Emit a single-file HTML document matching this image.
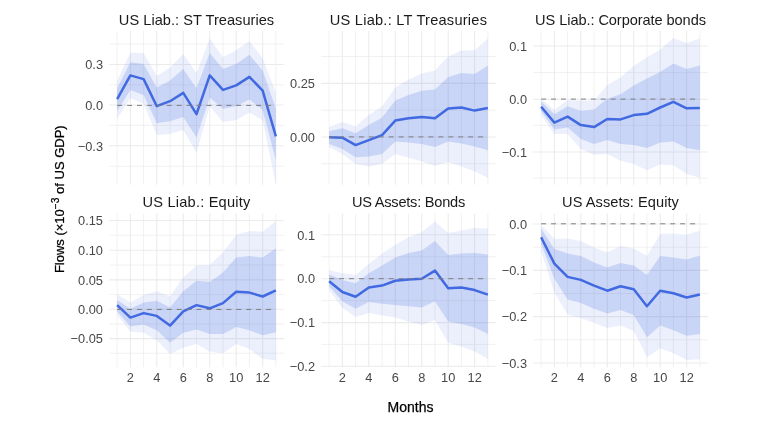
<!DOCTYPE html>
<html lang="en"><head><meta charset="utf-8"><title>Flows</title>
<style>html,body{margin:0;padding:0;background:#fff}svg{display:block}</style></head>
<body>
<svg width="768" height="431" viewBox="0 0 768 431">
<rect width="768" height="431" fill="#fff"/>
<g class="panel">
<clipPath id="cp0"><rect x="109.2" y="31.1" width="174.6" height="153.6"/></clipPath>
<line x1="109.2" x2="283.8" y1="44.0" y2="44.0" stroke="#ebebeb" stroke-width="0.7"/>
<line x1="109.2" x2="283.8" y1="84.8" y2="84.8" stroke="#ebebeb" stroke-width="0.7"/>
<line x1="109.2" x2="283.8" y1="125.4" y2="125.4" stroke="#ebebeb" stroke-width="0.7"/>
<line x1="109.2" x2="283.8" y1="166.3" y2="166.3" stroke="#ebebeb" stroke-width="0.7"/>
<line x1="117.14" x2="117.14" y1="31.1" y2="184.7" stroke="#ebebeb" stroke-width="0.7"/>
<line x1="143.60" x2="143.60" y1="31.1" y2="184.7" stroke="#ebebeb" stroke-width="0.7"/>
<line x1="170.05" x2="170.05" y1="31.1" y2="184.7" stroke="#ebebeb" stroke-width="0.7"/>
<line x1="196.51" x2="196.51" y1="31.1" y2="184.7" stroke="#ebebeb" stroke-width="0.7"/>
<line x1="222.96" x2="222.96" y1="31.1" y2="184.7" stroke="#ebebeb" stroke-width="0.7"/>
<line x1="249.42" x2="249.42" y1="31.1" y2="184.7" stroke="#ebebeb" stroke-width="0.7"/>
<line x1="275.88" x2="275.88" y1="31.1" y2="184.7" stroke="#ebebeb" stroke-width="0.7"/>
<line x1="109.2" x2="283.8" y1="64.5" y2="64.5" stroke="#ebebeb" stroke-width="1.07"/>
<line x1="109.2" x2="283.8" y1="105.0" y2="105.0" stroke="#ebebeb" stroke-width="1.07"/>
<line x1="109.2" x2="283.8" y1="145.8" y2="145.8" stroke="#ebebeb" stroke-width="1.07"/>
<line x1="130.37" x2="130.37" y1="31.1" y2="184.7" stroke="#ebebeb" stroke-width="1.07"/>
<line x1="156.82" x2="156.82" y1="31.1" y2="184.7" stroke="#ebebeb" stroke-width="1.07"/>
<line x1="183.28" x2="183.28" y1="31.1" y2="184.7" stroke="#ebebeb" stroke-width="1.07"/>
<line x1="209.74" x2="209.74" y1="31.1" y2="184.7" stroke="#ebebeb" stroke-width="1.07"/>
<line x1="236.19" x2="236.19" y1="31.1" y2="184.7" stroke="#ebebeb" stroke-width="1.07"/>
<line x1="262.65" x2="262.65" y1="31.1" y2="184.7" stroke="#ebebeb" stroke-width="1.07"/>
<g clip-path="url(#cp0)">
<polygon points="117.14,80.6 130.37,52.8 143.60,53.1 156.82,76.1 170.05,67.4 183.28,54.1 196.51,73.1 209.74,38.5 222.96,57.3 236.19,50.3 249.42,41.0 262.65,58.6 275.88,92.4 275.88,184.5 262.65,120.6 249.42,112.6 236.19,120.1 222.96,122.1 209.74,106.3 196.51,152.7 183.28,130.1 170.05,133.9 156.82,135.1 143.60,103.8 130.37,98.3 117.14,118.8" fill="#4169e1" fill-opacity="0.10"/>
<polygon points="117.14,88.2 130.37,62.3 143.60,64.1 156.82,87.4 170.05,80.6 183.28,69.1 196.51,88.2 209.74,53.1 222.96,69.1 236.19,64.1 249.42,54.8 262.65,70.6 275.88,108.7 275.88,160.2 262.65,110.0 249.42,99.5 236.19,106.3 222.96,108.8 209.74,97.5 196.51,137.6 183.28,117.1 170.05,121.3 156.82,123.3 143.60,94.9 130.37,89.9 117.14,111.2" fill="#4169e1" fill-opacity="0.20"/>
<polyline points="117.14,99.2 130.37,75.4 143.60,79.1 156.82,106.2 170.05,101.2 183.28,92.9 196.51,114.2 209.74,75.4 222.96,89.9 236.19,85.4 249.42,76.9 262.65,90.7 275.88,136.4" fill="none" stroke="#4169e1" stroke-width="2.5" stroke-linejoin="round" stroke-linecap="butt"/>
<line x1="117.14" x2="275.88" y1="105.4" y2="105.4" stroke="#7f7f7f" stroke-width="1.0" stroke-dasharray="4.96 4.97"/>
</g>
<text x="196.5" y="24.9" text-anchor="middle" font-family="Liberation Sans, Arial, Helvetica, sans-serif" font-size="14.6" letter-spacing="0.03" fill="#1a1a1a">US Liab.: ST Treasuries</text>
<text x="103.0" y="69.2" text-anchor="end" font-family="Liberation Sans, Arial, Helvetica, sans-serif" font-size="12.8" fill="#474747">0.3</text>
<text x="103.0" y="109.7" text-anchor="end" font-family="Liberation Sans, Arial, Helvetica, sans-serif" font-size="12.8" fill="#474747">0.0</text>
<text x="103.0" y="150.5" text-anchor="end" font-family="Liberation Sans, Arial, Helvetica, sans-serif" font-size="12.8" fill="#474747">−0.3</text>
</g>
<g class="panel">
<clipPath id="cp1"><rect x="321.2" y="31.1" width="174.6" height="153.6"/></clipPath>
<line x1="321.2" x2="495.79999999999995" y1="56.5" y2="56.5" stroke="#ebebeb" stroke-width="0.7"/>
<line x1="321.2" x2="495.79999999999995" y1="110.2" y2="110.2" stroke="#ebebeb" stroke-width="0.7"/>
<line x1="321.2" x2="495.79999999999995" y1="163.7" y2="163.7" stroke="#ebebeb" stroke-width="0.7"/>
<line x1="329.14" x2="329.14" y1="31.1" y2="184.7" stroke="#ebebeb" stroke-width="0.7"/>
<line x1="355.60" x2="355.60" y1="31.1" y2="184.7" stroke="#ebebeb" stroke-width="0.7"/>
<line x1="382.05" x2="382.05" y1="31.1" y2="184.7" stroke="#ebebeb" stroke-width="0.7"/>
<line x1="408.51" x2="408.51" y1="31.1" y2="184.7" stroke="#ebebeb" stroke-width="0.7"/>
<line x1="434.96" x2="434.96" y1="31.1" y2="184.7" stroke="#ebebeb" stroke-width="0.7"/>
<line x1="461.42" x2="461.42" y1="31.1" y2="184.7" stroke="#ebebeb" stroke-width="0.7"/>
<line x1="487.88" x2="487.88" y1="31.1" y2="184.7" stroke="#ebebeb" stroke-width="0.7"/>
<line x1="321.2" x2="495.79999999999995" y1="83.4" y2="83.4" stroke="#ebebeb" stroke-width="1.07"/>
<line x1="321.2" x2="495.79999999999995" y1="137.0" y2="137.0" stroke="#ebebeb" stroke-width="1.07"/>
<line x1="342.37" x2="342.37" y1="31.1" y2="184.7" stroke="#ebebeb" stroke-width="1.07"/>
<line x1="368.82" x2="368.82" y1="31.1" y2="184.7" stroke="#ebebeb" stroke-width="1.07"/>
<line x1="395.28" x2="395.28" y1="31.1" y2="184.7" stroke="#ebebeb" stroke-width="1.07"/>
<line x1="421.74" x2="421.74" y1="31.1" y2="184.7" stroke="#ebebeb" stroke-width="1.07"/>
<line x1="448.19" x2="448.19" y1="31.1" y2="184.7" stroke="#ebebeb" stroke-width="1.07"/>
<line x1="474.65" x2="474.65" y1="31.1" y2="184.7" stroke="#ebebeb" stroke-width="1.07"/>
<g clip-path="url(#cp1)">
<polygon points="329.14,126.8 342.37,122 355.60,126.3 368.82,115 382.05,106.2 395.28,87.4 408.51,79.4 421.74,73.6 434.96,70.6 448.19,56.6 461.42,50.6 474.65,50.3 487.88,38.5 487.88,177.7 474.65,171.5 461.42,166.4 448.19,161.9 434.96,165.7 421.74,161.4 408.51,157.7 395.28,153.9 382.05,163.9 368.82,166.4 355.60,163.9 342.37,153.9 329.14,147.1" fill="#4169e1" fill-opacity="0.10"/>
<polygon points="329.14,131.3 342.37,128.3 355.60,133.3 368.82,125 382.05,117.5 395.28,100.4 408.51,94.9 421.74,90.7 434.96,89.4 448.19,76.9 461.42,73.1 474.65,74.1 487.88,65.6 487.88,150.2 474.65,146.4 461.42,143.4 448.19,141.4 434.96,147.1 421.74,143.9 408.51,142.6 395.28,141.4 382.05,153.9 368.82,156.4 355.60,157.2 342.37,148.9 329.14,143.9" fill="#4169e1" fill-opacity="0.20"/>
<polyline points="329.14,137.3 342.37,137.7 355.60,145.1 368.82,140.1 382.05,135.1 395.28,120.6 408.51,118.3 421.74,117.1 434.96,118.3 448.19,108.4 461.42,107.5 474.65,110.6 487.88,108" fill="none" stroke="#4169e1" stroke-width="2.5" stroke-linejoin="round" stroke-linecap="butt"/>
<line x1="329.14" x2="487.88" y1="136.9" y2="136.9" stroke="#7f7f7f" stroke-width="1.0" stroke-dasharray="4.96 4.97"/>
</g>
<text x="408.5" y="24.9" text-anchor="middle" font-family="Liberation Sans, Arial, Helvetica, sans-serif" font-size="14.6" letter-spacing="0.24" fill="#1a1a1a">US Liab.: LT Treasuries</text>
<text x="315.0" y="88.1" text-anchor="end" font-family="Liberation Sans, Arial, Helvetica, sans-serif" font-size="12.8" fill="#474747">0.25</text>
<text x="315.0" y="141.7" text-anchor="end" font-family="Liberation Sans, Arial, Helvetica, sans-serif" font-size="12.8" fill="#474747">0.00</text>
</g>
<g class="panel">
<clipPath id="cp2"><rect x="533.2" y="31.1" width="174.6" height="153.6"/></clipPath>
<line x1="533.2" x2="707.8000000000001" y1="72.6" y2="72.6" stroke="#ebebeb" stroke-width="0.7"/>
<line x1="533.2" x2="707.8000000000001" y1="125.4" y2="125.4" stroke="#ebebeb" stroke-width="0.7"/>
<line x1="533.2" x2="707.8000000000001" y1="178.0" y2="178.0" stroke="#ebebeb" stroke-width="0.7"/>
<line x1="541.14" x2="541.14" y1="31.1" y2="184.7" stroke="#ebebeb" stroke-width="0.7"/>
<line x1="567.60" x2="567.60" y1="31.1" y2="184.7" stroke="#ebebeb" stroke-width="0.7"/>
<line x1="594.05" x2="594.05" y1="31.1" y2="184.7" stroke="#ebebeb" stroke-width="0.7"/>
<line x1="620.51" x2="620.51" y1="31.1" y2="184.7" stroke="#ebebeb" stroke-width="0.7"/>
<line x1="646.96" x2="646.96" y1="31.1" y2="184.7" stroke="#ebebeb" stroke-width="0.7"/>
<line x1="673.42" x2="673.42" y1="31.1" y2="184.7" stroke="#ebebeb" stroke-width="0.7"/>
<line x1="699.88" x2="699.88" y1="31.1" y2="184.7" stroke="#ebebeb" stroke-width="0.7"/>
<line x1="533.2" x2="707.8000000000001" y1="46.0" y2="46.0" stroke="#ebebeb" stroke-width="1.07"/>
<line x1="533.2" x2="707.8000000000001" y1="99.2" y2="99.2" stroke="#ebebeb" stroke-width="1.07"/>
<line x1="533.2" x2="707.8000000000001" y1="152.0" y2="152.0" stroke="#ebebeb" stroke-width="1.07"/>
<line x1="554.37" x2="554.37" y1="31.1" y2="184.7" stroke="#ebebeb" stroke-width="1.07"/>
<line x1="580.82" x2="580.82" y1="31.1" y2="184.7" stroke="#ebebeb" stroke-width="1.07"/>
<line x1="607.28" x2="607.28" y1="31.1" y2="184.7" stroke="#ebebeb" stroke-width="1.07"/>
<line x1="633.74" x2="633.74" y1="31.1" y2="184.7" stroke="#ebebeb" stroke-width="1.07"/>
<line x1="660.19" x2="660.19" y1="31.1" y2="184.7" stroke="#ebebeb" stroke-width="1.07"/>
<line x1="686.65" x2="686.65" y1="31.1" y2="184.7" stroke="#ebebeb" stroke-width="1.07"/>
<g clip-path="url(#cp2)">
<polygon points="541.14,98.7 554.37,110 567.60,100.0 580.82,100.4 594.05,100.4 607.28,84.9 620.51,77.4 633.74,66.1 646.96,57.3 660.19,49.8 673.42,38 686.65,43 699.88,38.5 699.88,177.7 686.65,174 673.42,165.2 660.19,164.4 646.96,170.2 633.74,163.9 620.51,160.7 607.28,153.9 594.05,154.7 580.82,148.9 567.60,133.9 554.37,133.9 541.14,115.1" fill="#4169e1" fill-opacity="0.10"/>
<polygon points="541.14,101.2 554.37,114.2 567.60,106.2 580.82,110.7 594.05,109.5 607.28,98.7 620.51,94.2 633.74,85.6 646.96,78.6 660.19,71.9 673.42,63.6 686.65,69.1 699.88,65.6 699.88,150.2 686.65,148.1 673.42,141.4 660.19,142.6 646.96,148.1 633.74,145.1 620.51,143.9 607.28,140.1 594.05,143.9 580.82,138.9 567.60,127.6 554.37,129.6 541.14,111.3" fill="#4169e1" fill-opacity="0.20"/>
<polyline points="541.14,106.8 554.37,122.6 567.60,116.6 580.82,125.1 594.05,127.1 607.28,119 620.51,119.4 633.74,115.1 646.96,113.8 660.19,107.5 673.42,101.8 686.65,108.3 699.88,107.9" fill="none" stroke="#4169e1" stroke-width="2.5" stroke-linejoin="round" stroke-linecap="butt"/>
<line x1="541.14" x2="699.88" y1="99.1" y2="99.1" stroke="#7f7f7f" stroke-width="1.0" stroke-dasharray="4.96 4.97"/>
</g>
<text x="620.5" y="24.9" text-anchor="middle" font-family="Liberation Sans, Arial, Helvetica, sans-serif" font-size="14.6" letter-spacing="-0.08" fill="#1a1a1a">US Liab.: Corporate bonds</text>
<text x="527.0" y="50.7" text-anchor="end" font-family="Liberation Sans, Arial, Helvetica, sans-serif" font-size="12.8" fill="#474747">0.1</text>
<text x="527.0" y="103.9" text-anchor="end" font-family="Liberation Sans, Arial, Helvetica, sans-serif" font-size="12.8" fill="#474747">0.0</text>
<text x="527.0" y="156.7" text-anchor="end" font-family="Liberation Sans, Arial, Helvetica, sans-serif" font-size="12.8" fill="#474747">−0.1</text>
</g>
<g class="panel">
<clipPath id="cp3"><rect x="109.2" y="213.5" width="174.6" height="153.7"/></clipPath>
<line x1="109.2" x2="283.8" y1="235.3" y2="235.3" stroke="#ebebeb" stroke-width="0.7"/>
<line x1="109.2" x2="283.8" y1="265.1" y2="265.1" stroke="#ebebeb" stroke-width="0.7"/>
<line x1="109.2" x2="283.8" y1="294.6" y2="294.6" stroke="#ebebeb" stroke-width="0.7"/>
<line x1="109.2" x2="283.8" y1="323.9" y2="323.9" stroke="#ebebeb" stroke-width="0.7"/>
<line x1="109.2" x2="283.8" y1="353.2" y2="353.2" stroke="#ebebeb" stroke-width="0.7"/>
<line x1="117.14" x2="117.14" y1="213.5" y2="367.2" stroke="#ebebeb" stroke-width="0.7"/>
<line x1="143.60" x2="143.60" y1="213.5" y2="367.2" stroke="#ebebeb" stroke-width="0.7"/>
<line x1="170.05" x2="170.05" y1="213.5" y2="367.2" stroke="#ebebeb" stroke-width="0.7"/>
<line x1="196.51" x2="196.51" y1="213.5" y2="367.2" stroke="#ebebeb" stroke-width="0.7"/>
<line x1="222.96" x2="222.96" y1="213.5" y2="367.2" stroke="#ebebeb" stroke-width="0.7"/>
<line x1="249.42" x2="249.42" y1="213.5" y2="367.2" stroke="#ebebeb" stroke-width="0.7"/>
<line x1="275.88" x2="275.88" y1="213.5" y2="367.2" stroke="#ebebeb" stroke-width="0.7"/>
<line x1="109.2" x2="283.8" y1="220.5" y2="220.5" stroke="#ebebeb" stroke-width="1.07"/>
<line x1="109.2" x2="283.8" y1="250.2" y2="250.2" stroke="#ebebeb" stroke-width="1.07"/>
<line x1="109.2" x2="283.8" y1="279.9" y2="279.9" stroke="#ebebeb" stroke-width="1.07"/>
<line x1="109.2" x2="283.8" y1="309.3" y2="309.3" stroke="#ebebeb" stroke-width="1.07"/>
<line x1="109.2" x2="283.8" y1="338.6" y2="338.6" stroke="#ebebeb" stroke-width="1.07"/>
<line x1="130.37" x2="130.37" y1="213.5" y2="367.2" stroke="#ebebeb" stroke-width="1.07"/>
<line x1="156.82" x2="156.82" y1="213.5" y2="367.2" stroke="#ebebeb" stroke-width="1.07"/>
<line x1="183.28" x2="183.28" y1="213.5" y2="367.2" stroke="#ebebeb" stroke-width="1.07"/>
<line x1="209.74" x2="209.74" y1="213.5" y2="367.2" stroke="#ebebeb" stroke-width="1.07"/>
<line x1="236.19" x2="236.19" y1="213.5" y2="367.2" stroke="#ebebeb" stroke-width="1.07"/>
<line x1="262.65" x2="262.65" y1="213.5" y2="367.2" stroke="#ebebeb" stroke-width="1.07"/>
<g clip-path="url(#cp3)">
<polygon points="117.14,294.2 130.37,302.5 143.60,295 156.82,291.2 170.05,296.2 183.28,277.4 196.51,265.6 209.74,264.9 222.96,252.4 236.19,234.8 249.42,231.1 262.65,231.8 275.88,221 275.88,360.2 262.65,359 249.42,348.9 236.19,343.9 222.96,353.2 209.74,351.5 196.51,343.9 183.28,347.7 170.05,354 156.82,340.2 143.60,332.7 130.37,331.4 117.14,315.1" fill="#4169e1" fill-opacity="0.10"/>
<polygon points="117.14,300 130.37,308.8 143.60,302.5 156.82,300.7 170.05,307.5 183.28,291.2 196.51,280.7 209.74,281.9 222.96,272.4 236.19,257.4 249.42,256.1 262.65,257.4 275.88,248.6 275.88,332.2 262.65,335.2 249.42,330.2 236.19,327.1 222.96,333.9 209.74,333.9 196.51,329.6 183.28,332.7 170.05,342.7 156.82,330.2 143.60,324.6 130.37,326.4 117.14,311.4" fill="#4169e1" fill-opacity="0.20"/>
<polyline points="117.14,305.1 130.37,317.6 143.60,313.1 156.82,315.9 170.05,325.6 183.28,311.4 196.51,305.1 209.74,308.3 222.96,303.1 236.19,291.8 249.42,292.6 262.65,296.5 275.88,290.3" fill="none" stroke="#4169e1" stroke-width="2.5" stroke-linejoin="round" stroke-linecap="butt"/>
<line x1="117.14" x2="275.88" y1="309.45" y2="309.45" stroke="#7f7f7f" stroke-width="1.0" stroke-dasharray="4.96 4.97"/>
</g>
<text x="196.5" y="207.3" text-anchor="middle" font-family="Liberation Sans, Arial, Helvetica, sans-serif" font-size="14.6" letter-spacing="0.2" fill="#1a1a1a">US Liab.: Equity</text>
<text x="103.0" y="225.2" text-anchor="end" font-family="Liberation Sans, Arial, Helvetica, sans-serif" font-size="12.8" fill="#474747">0.15</text>
<text x="103.0" y="254.9" text-anchor="end" font-family="Liberation Sans, Arial, Helvetica, sans-serif" font-size="12.8" fill="#474747">0.10</text>
<text x="103.0" y="284.6" text-anchor="end" font-family="Liberation Sans, Arial, Helvetica, sans-serif" font-size="12.8" fill="#474747">0.05</text>
<text x="103.0" y="314.0" text-anchor="end" font-family="Liberation Sans, Arial, Helvetica, sans-serif" font-size="12.8" fill="#474747">0.00</text>
<text x="103.0" y="343.3" text-anchor="end" font-family="Liberation Sans, Arial, Helvetica, sans-serif" font-size="12.8" fill="#474747">−0.05</text>
<text x="130.37" y="382.4" text-anchor="middle" font-family="Liberation Sans, Arial, Helvetica, sans-serif" font-size="12.8" fill="#474747">2</text>
<text x="156.82" y="382.4" text-anchor="middle" font-family="Liberation Sans, Arial, Helvetica, sans-serif" font-size="12.8" fill="#474747">4</text>
<text x="183.28" y="382.4" text-anchor="middle" font-family="Liberation Sans, Arial, Helvetica, sans-serif" font-size="12.8" fill="#474747">6</text>
<text x="209.74" y="382.4" text-anchor="middle" font-family="Liberation Sans, Arial, Helvetica, sans-serif" font-size="12.8" fill="#474747">8</text>
<text x="236.19" y="382.4" text-anchor="middle" font-family="Liberation Sans, Arial, Helvetica, sans-serif" font-size="12.8" fill="#474747">10</text>
<text x="262.65" y="382.4" text-anchor="middle" font-family="Liberation Sans, Arial, Helvetica, sans-serif" font-size="12.8" fill="#474747">12</text>
</g>
<g class="panel">
<clipPath id="cp4"><rect x="321.2" y="213.5" width="174.6" height="153.7"/></clipPath>
<line x1="321.2" x2="495.79999999999995" y1="256.7" y2="256.7" stroke="#ebebeb" stroke-width="0.7"/>
<line x1="321.2" x2="495.79999999999995" y1="300.6" y2="300.6" stroke="#ebebeb" stroke-width="0.7"/>
<line x1="321.2" x2="495.79999999999995" y1="344.4" y2="344.4" stroke="#ebebeb" stroke-width="0.7"/>
<line x1="329.14" x2="329.14" y1="213.5" y2="367.2" stroke="#ebebeb" stroke-width="0.7"/>
<line x1="355.60" x2="355.60" y1="213.5" y2="367.2" stroke="#ebebeb" stroke-width="0.7"/>
<line x1="382.05" x2="382.05" y1="213.5" y2="367.2" stroke="#ebebeb" stroke-width="0.7"/>
<line x1="408.51" x2="408.51" y1="213.5" y2="367.2" stroke="#ebebeb" stroke-width="0.7"/>
<line x1="434.96" x2="434.96" y1="213.5" y2="367.2" stroke="#ebebeb" stroke-width="0.7"/>
<line x1="461.42" x2="461.42" y1="213.5" y2="367.2" stroke="#ebebeb" stroke-width="0.7"/>
<line x1="487.88" x2="487.88" y1="213.5" y2="367.2" stroke="#ebebeb" stroke-width="0.7"/>
<line x1="321.2" x2="495.79999999999995" y1="234.8" y2="234.8" stroke="#ebebeb" stroke-width="1.07"/>
<line x1="321.2" x2="495.79999999999995" y1="278.7" y2="278.7" stroke="#ebebeb" stroke-width="1.07"/>
<line x1="321.2" x2="495.79999999999995" y1="322.6" y2="322.6" stroke="#ebebeb" stroke-width="1.07"/>
<line x1="321.2" x2="495.79999999999995" y1="366.3" y2="366.3" stroke="#ebebeb" stroke-width="1.07"/>
<line x1="342.37" x2="342.37" y1="213.5" y2="367.2" stroke="#ebebeb" stroke-width="1.07"/>
<line x1="368.82" x2="368.82" y1="213.5" y2="367.2" stroke="#ebebeb" stroke-width="1.07"/>
<line x1="395.28" x2="395.28" y1="213.5" y2="367.2" stroke="#ebebeb" stroke-width="1.07"/>
<line x1="421.74" x2="421.74" y1="213.5" y2="367.2" stroke="#ebebeb" stroke-width="1.07"/>
<line x1="448.19" x2="448.19" y1="213.5" y2="367.2" stroke="#ebebeb" stroke-width="1.07"/>
<line x1="474.65" x2="474.65" y1="213.5" y2="367.2" stroke="#ebebeb" stroke-width="1.07"/>
<g clip-path="url(#cp4)">
<polygon points="329.14,269.9 342.37,273.2 355.60,274.9 368.82,264.1 382.05,253.6 395.28,244.8 408.51,237.3 421.74,232.3 434.96,221.5 448.19,233.1 461.42,230.6 474.65,228.1 487.88,228.6 487.88,359 474.65,351.5 461.42,346.4 448.19,342.7 434.96,320.1 421.74,325.1 408.51,321.4 395.28,317.6 382.05,315.6 368.82,313.1 355.60,317.1 342.37,308.1 329.14,290.1" fill="#4169e1" fill-opacity="0.10"/>
<polygon points="329.14,274.4 342.37,279.9 355.60,283.2 368.82,273.2 382.05,265.6 395.28,257.4 408.51,253.1 421.74,250.6 434.96,241.1 448.19,254.9 461.42,253.6 474.65,252.9 487.88,254.4 487.88,333.9 474.65,327.6 461.42,323.9 448.19,321.4 434.96,301.3 421.74,307.6 408.51,306.3 395.28,305.1 382.05,303.8 368.82,302.1 355.60,308.8 342.37,301.3 329.14,286.3" fill="#4169e1" fill-opacity="0.20"/>
<polyline points="329.14,281.3 342.37,292 355.60,296.8 368.82,287.5 382.05,285.6 395.28,280.8 408.51,279.6 421.74,278.8 434.96,270.6 448.19,288.3 461.42,287.5 474.65,290.1 487.88,294.6" fill="none" stroke="#4169e1" stroke-width="2.5" stroke-linejoin="round" stroke-linecap="butt"/>
<line x1="329.14" x2="487.88" y1="278.7" y2="278.7" stroke="#7f7f7f" stroke-width="1.0" stroke-dasharray="4.96 4.97"/>
</g>
<text x="408.5" y="207.3" text-anchor="middle" font-family="Liberation Sans, Arial, Helvetica, sans-serif" font-size="14.6" letter-spacing="-0.23" fill="#1a1a1a">US Assets: Bonds</text>
<text x="315.0" y="239.5" text-anchor="end" font-family="Liberation Sans, Arial, Helvetica, sans-serif" font-size="12.8" fill="#474747">0.1</text>
<text x="315.0" y="283.4" text-anchor="end" font-family="Liberation Sans, Arial, Helvetica, sans-serif" font-size="12.8" fill="#474747">0.0</text>
<text x="315.0" y="327.3" text-anchor="end" font-family="Liberation Sans, Arial, Helvetica, sans-serif" font-size="12.8" fill="#474747">−0.1</text>
<text x="315.0" y="371.0" text-anchor="end" font-family="Liberation Sans, Arial, Helvetica, sans-serif" font-size="12.8" fill="#474747">−0.2</text>
<text x="342.37" y="382.4" text-anchor="middle" font-family="Liberation Sans, Arial, Helvetica, sans-serif" font-size="12.8" fill="#474747">2</text>
<text x="368.82" y="382.4" text-anchor="middle" font-family="Liberation Sans, Arial, Helvetica, sans-serif" font-size="12.8" fill="#474747">4</text>
<text x="395.28" y="382.4" text-anchor="middle" font-family="Liberation Sans, Arial, Helvetica, sans-serif" font-size="12.8" fill="#474747">6</text>
<text x="421.74" y="382.4" text-anchor="middle" font-family="Liberation Sans, Arial, Helvetica, sans-serif" font-size="12.8" fill="#474747">8</text>
<text x="448.19" y="382.4" text-anchor="middle" font-family="Liberation Sans, Arial, Helvetica, sans-serif" font-size="12.8" fill="#474747">10</text>
<text x="474.65" y="382.4" text-anchor="middle" font-family="Liberation Sans, Arial, Helvetica, sans-serif" font-size="12.8" fill="#474747">12</text>
</g>
<g class="panel">
<clipPath id="cp5"><rect x="533.2" y="213.5" width="174.6" height="153.7"/></clipPath>
<line x1="533.2" x2="707.8000000000001" y1="247.2" y2="247.2" stroke="#ebebeb" stroke-width="0.7"/>
<line x1="533.2" x2="707.8000000000001" y1="293.5" y2="293.5" stroke="#ebebeb" stroke-width="0.7"/>
<line x1="533.2" x2="707.8000000000001" y1="339.8" y2="339.8" stroke="#ebebeb" stroke-width="0.7"/>
<line x1="541.14" x2="541.14" y1="213.5" y2="367.2" stroke="#ebebeb" stroke-width="0.7"/>
<line x1="567.60" x2="567.60" y1="213.5" y2="367.2" stroke="#ebebeb" stroke-width="0.7"/>
<line x1="594.05" x2="594.05" y1="213.5" y2="367.2" stroke="#ebebeb" stroke-width="0.7"/>
<line x1="620.51" x2="620.51" y1="213.5" y2="367.2" stroke="#ebebeb" stroke-width="0.7"/>
<line x1="646.96" x2="646.96" y1="213.5" y2="367.2" stroke="#ebebeb" stroke-width="0.7"/>
<line x1="673.42" x2="673.42" y1="213.5" y2="367.2" stroke="#ebebeb" stroke-width="0.7"/>
<line x1="699.88" x2="699.88" y1="213.5" y2="367.2" stroke="#ebebeb" stroke-width="0.7"/>
<line x1="533.2" x2="707.8000000000001" y1="224.0" y2="224.0" stroke="#ebebeb" stroke-width="1.07"/>
<line x1="533.2" x2="707.8000000000001" y1="270.4" y2="270.4" stroke="#ebebeb" stroke-width="1.07"/>
<line x1="533.2" x2="707.8000000000001" y1="316.6" y2="316.6" stroke="#ebebeb" stroke-width="1.07"/>
<line x1="533.2" x2="707.8000000000001" y1="363.0" y2="363.0" stroke="#ebebeb" stroke-width="1.07"/>
<line x1="554.37" x2="554.37" y1="213.5" y2="367.2" stroke="#ebebeb" stroke-width="1.07"/>
<line x1="580.82" x2="580.82" y1="213.5" y2="367.2" stroke="#ebebeb" stroke-width="1.07"/>
<line x1="607.28" x2="607.28" y1="213.5" y2="367.2" stroke="#ebebeb" stroke-width="1.07"/>
<line x1="633.74" x2="633.74" y1="213.5" y2="367.2" stroke="#ebebeb" stroke-width="1.07"/>
<line x1="660.19" x2="660.19" y1="213.5" y2="367.2" stroke="#ebebeb" stroke-width="1.07"/>
<line x1="686.65" x2="686.65" y1="213.5" y2="367.2" stroke="#ebebeb" stroke-width="1.07"/>
<g clip-path="url(#cp5)">
<polygon points="541.14,225.0 554.37,239.1 567.60,238.6 580.82,241.1 594.05,247.4 607.28,252.4 620.51,246.1 633.74,248.6 646.96,256.1 660.19,234.1 673.42,233.6 686.65,234.8 699.88,230.6 699.88,359.2 686.65,360.0 673.42,353.2 660.19,348.2 646.96,357.2 633.74,330.9 620.51,325.6 607.28,328.1 594.05,323.1 580.82,318.1 567.60,314.6 554.37,292.5 541.14,251" fill="#4169e1" fill-opacity="0.10"/>
<polygon points="541.14,228.6 554.37,249.1 567.60,253.6 580.82,256.1 594.05,262.4 607.28,267.4 620.51,263.1 633.74,265.6 646.96,274.9 660.19,256.1 673.42,257.4 686.65,259.4 699.88,255.6 699.88,333.9 686.65,335.7 673.42,330.2 660.19,325.6 646.96,337.2 633.74,315.1 620.51,310.1 607.28,313.6 594.05,308.8 580.82,303.0 567.60,299.4 554.37,278.7 541.14,243.6" fill="#4169e1" fill-opacity="0.20"/>
<polyline points="541.14,237.3 554.37,263.6 567.60,276.9 580.82,279.9 594.05,285.7 607.28,290.7 620.51,286.2 633.74,289.2 646.96,306.3 660.19,290.7 673.42,293.2 686.65,297.5 699.88,294.5" fill="none" stroke="#4169e1" stroke-width="2.5" stroke-linejoin="round" stroke-linecap="butt"/>
<line x1="541.14" x2="699.88" y1="223.8" y2="223.8" stroke="#7f7f7f" stroke-width="1.0" stroke-dasharray="4.96 4.97"/>
</g>
<text x="620.5" y="207.3" text-anchor="middle" font-family="Liberation Sans, Arial, Helvetica, sans-serif" font-size="14.6" letter-spacing="0.05" fill="#1a1a1a">US Assets: Equity</text>
<text x="527.0" y="228.7" text-anchor="end" font-family="Liberation Sans, Arial, Helvetica, sans-serif" font-size="12.8" fill="#474747">0.0</text>
<text x="527.0" y="275.1" text-anchor="end" font-family="Liberation Sans, Arial, Helvetica, sans-serif" font-size="12.8" fill="#474747">−0.1</text>
<text x="527.0" y="321.3" text-anchor="end" font-family="Liberation Sans, Arial, Helvetica, sans-serif" font-size="12.8" fill="#474747">−0.2</text>
<text x="527.0" y="367.7" text-anchor="end" font-family="Liberation Sans, Arial, Helvetica, sans-serif" font-size="12.8" fill="#474747">−0.3</text>
<text x="554.37" y="382.4" text-anchor="middle" font-family="Liberation Sans, Arial, Helvetica, sans-serif" font-size="12.8" fill="#474747">2</text>
<text x="580.82" y="382.4" text-anchor="middle" font-family="Liberation Sans, Arial, Helvetica, sans-serif" font-size="12.8" fill="#474747">4</text>
<text x="607.28" y="382.4" text-anchor="middle" font-family="Liberation Sans, Arial, Helvetica, sans-serif" font-size="12.8" fill="#474747">6</text>
<text x="633.74" y="382.4" text-anchor="middle" font-family="Liberation Sans, Arial, Helvetica, sans-serif" font-size="12.8" fill="#474747">8</text>
<text x="660.19" y="382.4" text-anchor="middle" font-family="Liberation Sans, Arial, Helvetica, sans-serif" font-size="12.8" fill="#474747">10</text>
<text x="686.65" y="382.4" text-anchor="middle" font-family="Liberation Sans, Arial, Helvetica, sans-serif" font-size="12.8" fill="#474747">12</text>
</g>
<text x="410.5" y="411.6" text-anchor="middle" font-family="Liberation Sans, Arial, Helvetica, sans-serif" font-size="14" fill="#000" stroke="#000" stroke-width="0.25">Months</text>
<text transform="translate(64.2,199.2) rotate(-90)" text-anchor="middle" font-family="Liberation Sans, Arial, Helvetica, sans-serif" font-size="13" fill="#000" stroke="#000" stroke-width="0.25">Flows (×10<tspan font-size="10.2" dy="-5.6">−3</tspan><tspan dy="5.6"> of US GDP)</tspan></text>
</svg>
</body></html>
